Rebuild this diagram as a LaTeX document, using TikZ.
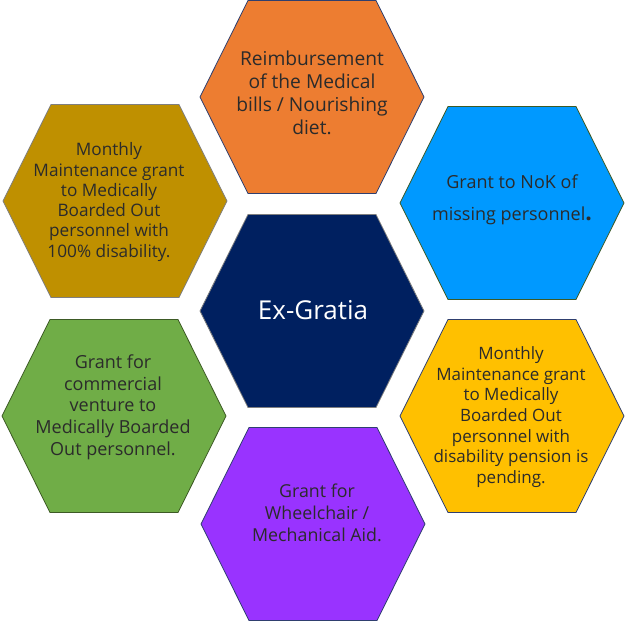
\documentclass[tikz,border=0pt]{standalone}
\usepackage{fontspec}
\setmainfont{Open Sans}
\definecolor{cOrange}{HTML}{ED7D31}
\definecolor{cGold}{HTML}{BF9000}
\definecolor{cBlue}{HTML}{0099FF}
\definecolor{cGreen}{HTML}{70AD47}
\definecolor{cYellow}{HTML}{FFC000}
\definecolor{cPurple}{HTML}{9933FF}
\definecolor{cNavy}{HTML}{002060}
\definecolor{bNavy}{HTML}{2F3F6F}
\definecolor{bGreen}{HTML}{3D5A25}
\definecolor{bGray}{HTML}{7F7F7F}
\definecolor{txtGray}{HTML}{2B2B2B}
\begin{document}
\begin{tikzpicture}[x=1pt,y=-1pt,
  hex/.pic={\path[pic actions] (-112,0) -- (-64,-96.5) -- (64,-96.5) -- (112,0) -- (64,96.5) -- (-64,96.5) -- cycle;},
  hexstyle/.style={line width=0.8pt},
  txt/.style={align=center,text=txtGray,font=\fontsize{17}{21}\selectfont,inner sep=0pt}]
\useasboundingbox (0,0) rectangle (626,622);
% hexagons
\pic[hexstyle,fill=cOrange,draw=bNavy] at (312,97) {hex};
\pic[hexstyle,fill=cGold,draw=bGray] at (115,201) {hex};
\pic[hexstyle,fill=cBlue,draw=bGreen] at (512,203) {hex};
\pic[hexstyle,fill=cNavy,draw=bGray] at (312,311) {hex};
\pic[hexstyle,fill=cGreen,draw=bGreen] at (114,416) {hex};
\pic[hexstyle,fill=cYellow,draw=bNavy] at (512,416) {hex};
\pic[hexstyle,fill=cPurple,draw=bNavy] at (313,524) {hex};
% texts
\node[txt,font=\fontsize{19.2}{23.2}\selectfont] (reimb) at (312,93) {Reimbursement\\of the Medical\\bills / Nourishing\\diet.};
\node[txt,font=\fontsize{17.2}{20.3}\selectfont] (monthly1) at (109,202) {Monthly\\Maintenance grant\\to Medically\\Boarded Out\\personnel with\\100\% disability.};
\node[txt,font=\fontsize{18}{32}\selectfont] (nok) at (512,200) {Grant to NoK of\\missing personnel{\fontsize{23}{23}\selectfont\textbf{.}}};
\node[txt,text=white,font=\fontsize{26}{30}\selectfont] (ex) at (313,310) {Ex-Gratia};
\node[txt,font=\fontsize{18}{21.7}\selectfont] (venture) at (113,407) {Grant for\\commercial\\venture to\\Medically Boarded\\Out personnel.};
\node[txt,font=\fontsize{17}{20.6}\selectfont] (monthly2) at (511,417) {Monthly\\Maintenance grant\\to Medically\\Boarded Out\\personnel with\\disability pension is\\pending.};
\node[txt,font=\fontsize{17.8}{21.7}\selectfont] (wheel) at (317,513) {Grant for\\Wheelchair /\\Mechanical Aid.};
\end{tikzpicture}
\end{document}
